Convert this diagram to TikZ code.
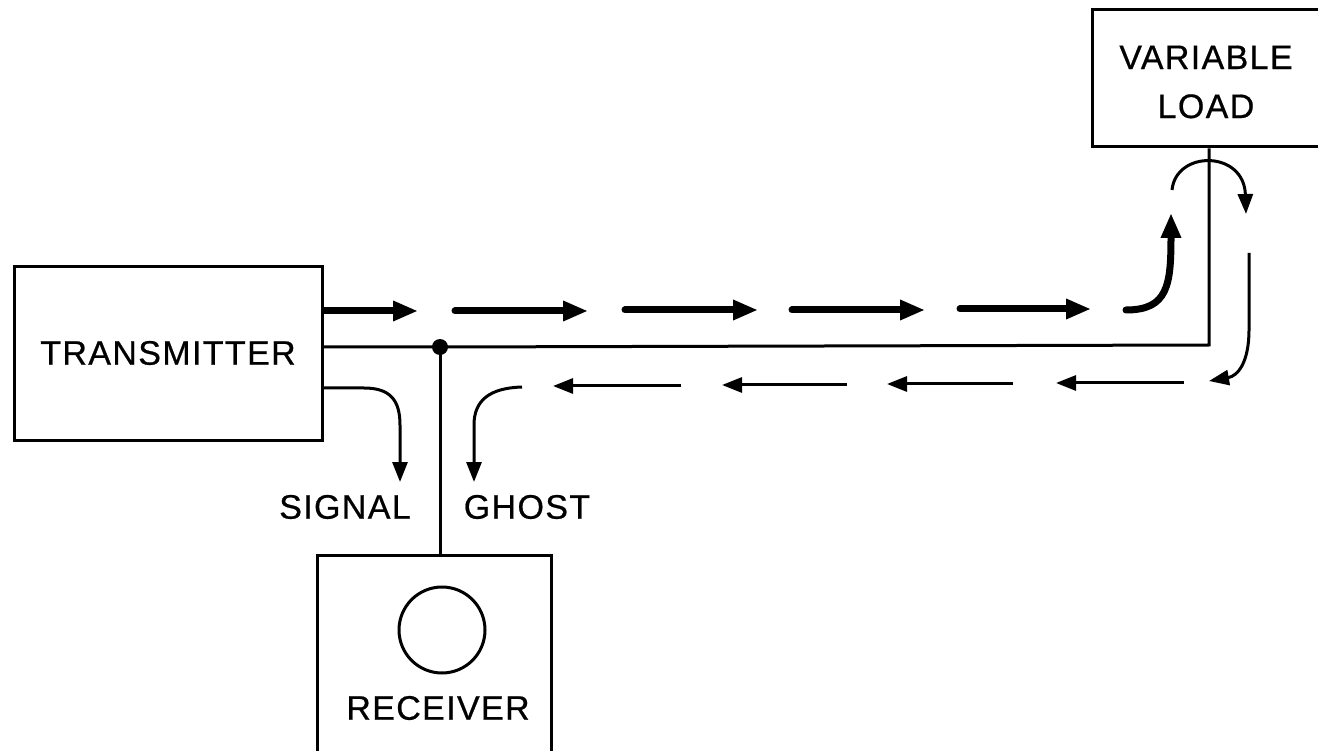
\documentclass[tikz,border=0pt]{standalone}
\usepackage{fontspec}
\setmainfont[LetterSpace=4,FakeBold=0.6]{Liberation Sans}
\usetikzlibrary{arrows.meta}
\tikzset{
  box/.style={draw, line width=3pt, inner sep=0pt},
  lbl/.style={font=\fontsize{34}{49}\selectfont, inner sep=0pt, align=center},
  wire/.style={line width=3pt},
  fwd/.style={line width=7pt, line cap=round, -{Triangle[length=25pt,width=19pt]}},
  bwd/.style={line width=3pt, -{Triangle[length=20pt,width=15pt]}},
  bent/.style={line width=3pt, -{Triangle[length=20pt,width=15pt]}},
}
\begin{document}
\begin{tikzpicture}[x=1pt,y=-1pt]
\clip (0,0) rectangle (1318,751);
\fill[white] (0,0) rectangle (1318,751);
% boxes
\node[box, minimum width=308pt, minimum height=173pt] (tx) at (168,353.5) {};
\node[lbl] (txt) at (168,353) {TRANSMITTER};
\node[box, minimum width=304pt, minimum height=137pt] (vl) at (1244,78.5) {};
\node[lbl] (vlt) at (1206,82) {VARIABLE\\LOAD};
\node[box, minimum width=234pt, minimum height=240pt] (rcv) at (434,675) {};
\node[draw, circle, line width=3pt, minimum size=86pt, inner sep=0pt] (scr) at (442,630) {};
\node[lbl] (rcvt) at (438,708) {RECEIVER};
\node[lbl] (sig) at (345,507) {SIGNAL};
\node[lbl] (gh) at (527,507) {GHOST};
% line
\coordinate (j) at (440,347);
\coordinate (c) at (1209,345);
\fill (j) circle (8pt);
\draw[wire] (tx.east |- j) -- (j) -- (c) -- (c |- vl.south);
\draw[wire] (j) -- (j |- rcv.north);
% forward arrows
\coordinate (f0) at (322,311);
\coordinate (f1) at (418,311);
\coordinate (f2s) at (455,311);
\coordinate (f2e) at (588,311);
\coordinate (f3s) at (625,310);
\coordinate (f3e) at (758,310);
\coordinate (f4s) at (792,310);
\coordinate (f4e) at (925,310);
\coordinate (f5s) at (960,309);
\coordinate (f5e) at (1091,309);
\coordinate (f6s) at (1126,310);
\coordinate (f6e) at (1171,213);
\draw[fwd, line cap=butt] (f0) -- (f1);
\draw[fwd] (f2s) -- (f2e);
\draw[fwd] (f3s) -- (f3e);
\draw[fwd] (f4s) -- (f4e);
\draw[fwd] (f5s) -- (f5e);
\draw[fwd] (f6s) .. controls (1168,310) and (1171,285) .. (f6e);
% reflection at load
\coordinate (r1s) at (1172,190);
\coordinate (r1e) at (1246,214);
\draw[bent] (r1s) .. controls (1176,150) and (1244,150) .. (r1e);
\coordinate (r2s) at (1249,253);
\coordinate (r2e) at (1209,381);
\draw[bent] (r2s) -- (1249,330) .. controls (1249,362) and (1238,376) .. (r2e);
% backward arrows
\coordinate (b1s) at (1184,383);
\coordinate (b1e) at (1056,383);
\coordinate (b2s) at (1013,384);
\coordinate (b2e) at (887,384);
\coordinate (b3s) at (847,385);
\coordinate (b3e) at (722,385);
\coordinate (b4s) at (681,386);
\coordinate (b4e) at (553,386);
\draw[bwd] (b1s) -- (b1e);
\draw[bwd] (b2s) -- (b2e);
\draw[bwd] (b3s) -- (b3e);
\draw[bwd] (b4s) -- (b4e);
% ghost and signal
\coordinate (gs) at (522,387);
\coordinate (ge) at (474,482);
\draw[bent] (gs) .. controls (490,388) and (474,400) .. (474,425) -- (ge);
\coordinate (ss) at (322,388);
\coordinate (se) at (400,482);
\draw[bent] (tx.east |- ss) -- (364,388) .. controls (390,388) and (400,400) .. (400,425) -- (se);
\end{tikzpicture}
\end{document}
